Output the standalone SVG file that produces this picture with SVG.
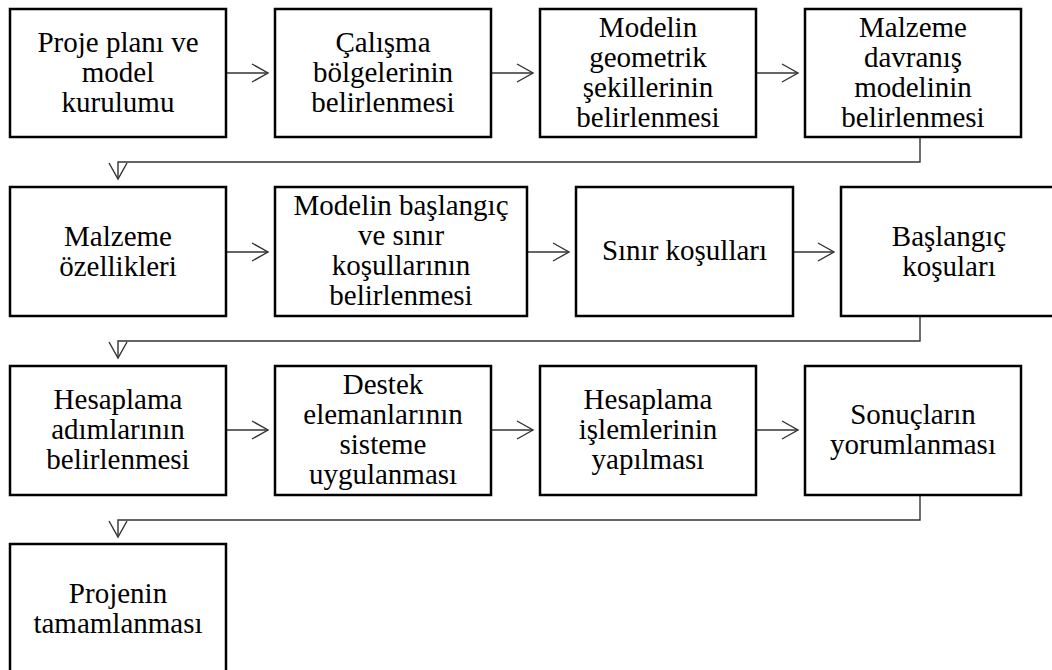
<svg xmlns="http://www.w3.org/2000/svg" width="1052" height="670" viewBox="0 0 1052 670">
<style>
.box{fill:#fff;stroke:#000;stroke-width:2.5}
.con{fill:none;stroke:#333;stroke-width:1.4}
.t{font-family:'Liberation Serif','Times New Roman',serif;font-size:29px;fill:#000;text-anchor:middle}
</style>
<defs>
<marker id="ah" markerUnits="userSpaceOnUse" markerWidth="24" markerHeight="24" viewBox="-20 -12 24 24" refX="0" refY="0" orient="auto">
<path d="M-16,-9 L0,0 L-16,9" fill="none" stroke="#333" stroke-width="1.4"/>
</marker>
</defs>
<rect width="1052" height="670" fill="#fff"/>
<g id="connectors">
<line class="con" x1="226" y1="73" x2="268" y2="73" marker-end="url(#ah)"/>
<line class="con" x1="491" y1="73" x2="533" y2="73" marker-end="url(#ah)"/>
<line class="con" x1="756" y1="73" x2="798" y2="73" marker-end="url(#ah)"/>
<polyline class="con" points="920,137 920,162 118,162 118,179" marker-end="url(#ah)"/>
<line class="con" x1="226" y1="252" x2="268" y2="252" marker-end="url(#ah)"/>
<line class="con" x1="527" y1="252" x2="569" y2="252" marker-end="url(#ah)"/>
<line class="con" x1="793" y1="252" x2="834" y2="252" marker-end="url(#ah)"/>
<polyline class="con" points="920,316 920,341 118,341 118,358" marker-end="url(#ah)"/>
<line class="con" x1="226" y1="430" x2="268" y2="430" marker-end="url(#ah)"/>
<line class="con" x1="491" y1="430" x2="533" y2="430" marker-end="url(#ah)"/>
<line class="con" x1="756" y1="430" x2="798" y2="430" marker-end="url(#ah)"/>
<polyline class="con" points="920,495 920,520 118,520 118,537" marker-end="url(#ah)"/>
</g>
<g id="n1"><rect class="box" x="10" y="9" width="216" height="128"/><text class="t" x="118"><tspan x="118" y="51.5">Proje planı ve</tspan><tspan x="118" y="81.5">model</tspan><tspan x="118" y="111.5">kurulumu</tspan></text></g>
<g id="n2"><rect class="box" x="275" y="9" width="216" height="128"/><text class="t" x="383"><tspan x="383" y="51.5">Çalışma</tspan><tspan x="383" y="81.5">bölgelerinin</tspan><tspan x="383" y="111.5">belirlenmesi</tspan></text></g>
<g id="n3"><rect class="box" x="540" y="9" width="216" height="128"/><text class="t" x="648"><tspan x="648" y="36.5">Modelin</tspan><tspan x="648" y="66.5">geometrik</tspan><tspan x="648" y="96.5">şekillerinin</tspan><tspan x="648" y="126.5">belirlenmesi</tspan></text></g>
<g id="n4"><rect class="box" x="805" y="9" width="216" height="128"/><text class="t" x="913"><tspan x="913" y="36.5">Malzeme</tspan><tspan x="913" y="66.5">davranış</tspan><tspan x="913" y="96.5">modelinin</tspan><tspan x="913" y="126.5">belirlenmesi</tspan></text></g>
<g id="n5"><rect class="box" x="10" y="187" width="216" height="129"/><text class="t" x="118"><tspan x="118" y="245.5">Malzeme</tspan><tspan x="118" y="275.5">özellikleri</tspan></text></g>
<g id="n6"><rect class="box" x="275" y="187" width="252" height="129"/><text class="t" x="401"><tspan x="401" y="215">Modelin başlangıç</tspan><tspan x="401" y="245">ve sınır</tspan><tspan x="401" y="275">koşullarının</tspan><tspan x="401" y="305">belirlenmesi</tspan></text></g>
<g id="n7"><rect class="box" x="576" y="187" width="217" height="129"/><text class="t" x="684.5" y="260">Sınır koşulları</text></g>
<g id="n8"><rect class="box" x="841" y="187" width="216" height="129"/><text class="t" x="949"><tspan x="949" y="245.5">Başlangıç</tspan><tspan x="949" y="275.5">koşuları</tspan></text></g>
<g id="n9"><rect class="box" x="10" y="366" width="216" height="129"/><text class="t" x="118"><tspan x="118" y="409">Hesaplama</tspan><tspan x="118" y="439">adımlarının</tspan><tspan x="118" y="469">belirlenmesi</tspan></text></g>
<g id="n10"><rect class="box" x="275" y="366" width="216" height="129"/><text class="t" x="383"><tspan x="383" y="394">Destek</tspan><tspan x="383" y="424">elemanlarının</tspan><tspan x="383" y="454">sisteme</tspan><tspan x="383" y="484">uygulanması</tspan></text></g>
<g id="n11"><rect class="box" x="540" y="366" width="216" height="129"/><text class="t" x="648"><tspan x="648" y="409">Hesaplama</tspan><tspan x="648" y="439">işlemlerinin</tspan><tspan x="648" y="469">yapılması</tspan></text></g>
<g id="n12"><rect class="box" x="805" y="366" width="216" height="129"/><text class="t" x="913"><tspan x="913" y="424">Sonuçların</tspan><tspan x="913" y="454">yorumlanması</tspan></text></g>
<g id="n13"><rect class="box" x="10" y="544" width="216" height="130"/><text class="t" x="118"><tspan x="118" y="602.5">Projenin</tspan><tspan x="118" y="632.5">tamamlanması</tspan></text></g>
</svg>
